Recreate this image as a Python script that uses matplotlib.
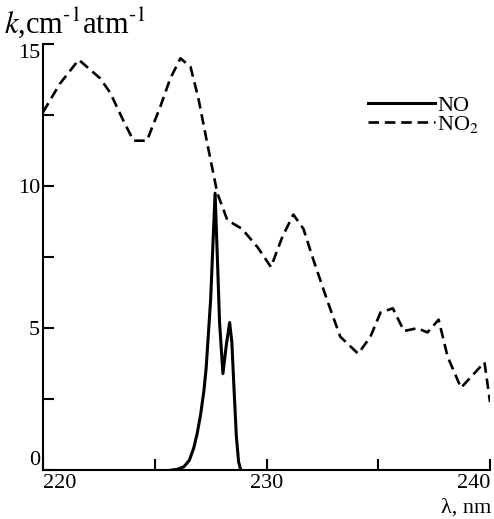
import matplotlib
matplotlib.use('Agg')
import matplotlib.pyplot as plt
from matplotlib.ticker import MultipleLocator

plt.rcParams['font.family'] = ['Liberation Serif', 'DejaVu Serif']
plt.rcParams['mathtext.fontset'] = 'stix'

# NO2 (dashed)
no2_wl = [220.0, 220.75, 221.6, 222.55, 223.0, 223.6, 224.05, 224.65, 225.25, 225.7,
          226.15, 226.6, 226.95, 227.35, 227.8, 228.25, 228.9, 229.6, 230.2, 230.7,
          231.2, 231.65, 232.1, 232.75, 233.3, 234.1, 234.65, 235.1, 235.65, 236.15,
          236.75, 237.2, 237.7, 238.1, 238.7, 239.75, 240.0]
no2_k = [12.6, 13.6, 14.45, 13.8, 13.3, 12.3, 11.6, 11.6, 12.8, 13.8,
         14.5, 14.2, 13.1, 11.5, 9.75, 8.8, 8.5, 7.85, 7.15, 8.2,
         9.0, 8.5, 7.4, 5.9, 4.7, 4.1, 4.7, 5.55, 5.7, 4.9,
         5.0, 4.85, 5.3, 4.0, 2.9, 3.8, 2.4]

# NO (solid)
no_wl = [225.7, 226.0, 226.3, 226.55, 226.75, 226.9, 227.05, 227.2, 227.3, 227.4,
         227.5, 227.6, 227.7, 227.8, 227.9, 228.05, 228.2, 228.35, 228.45, 228.55,
         228.65, 228.75, 228.85]
no_k = [0.0, 0.03, 0.12, 0.35, 0.8, 1.3, 1.95, 2.8, 3.6, 4.8,
        6.0, 7.9, 9.75, 7.5, 5.2, 3.4, 4.4, 5.2, 4.5, 2.8,
        1.2, 0.3, 0.0]

xticks = [220, 230, 240]
yticks = [0, 5, 10, 15]

fig = plt.figure(figsize=(4.94, 5.19), dpi=100)
ax = fig.add_axes([0.087, 0.094, 0.905, 0.821])

ax.plot(no_wl, no_k, color='black', lw=2.2, label='NO', solid_joinstyle='round')
ax.plot(no2_wl, no2_k, color='black', lw=1.9, dashes=(4, 2.2), label='NO$_2$')

ax.set_xlim(220, 240)
ax.set_ylim(0, 15)
ax.set_xticks(xticks)
ax.set_yticks(yticks)
ax.xaxis.set_minor_locator(MultipleLocator(5))
ax.yaxis.set_minor_locator(MultipleLocator(2.5))
ax.tick_params(which='both', direction='in', length=8, width=1.5, labelsize=16,
               top=False, right=False)
ax.tick_params(axis='x', pad=3)
ax.tick_params(axis='y', pad=2)

xl = ax.get_xticklabels()
xl[0].set_ha('left')
xl[-1].set_ha('right')
yl = ax.get_yticklabels()
yl[0].set_va('bottom')
yl[-1].set_va('top')

for s in ['top', 'right']:
    ax.spines[s].set_visible(False)
for s in ['left', 'bottom']:
    ax.spines[s].set_linewidth(1.5)

fig.text(0.008, 0.937, r'$k$,cm$^{\text{-}1}$atm$^{\text{-}1}$', fontsize=22,
         ha='left', va='baseline')
fig.text(0.995, 0.003, 'λ, nm', fontsize=16, ha='right', va='bottom')

leg = ax.legend(loc='upper right', bbox_to_anchor=(1.0, 0.905), frameon=False,
                fontsize=16, handlelength=3.0, handletextpad=0.1, labelspacing=-0.1,
                borderpad=0)

fig.savefig('out.png', dpi=100)
